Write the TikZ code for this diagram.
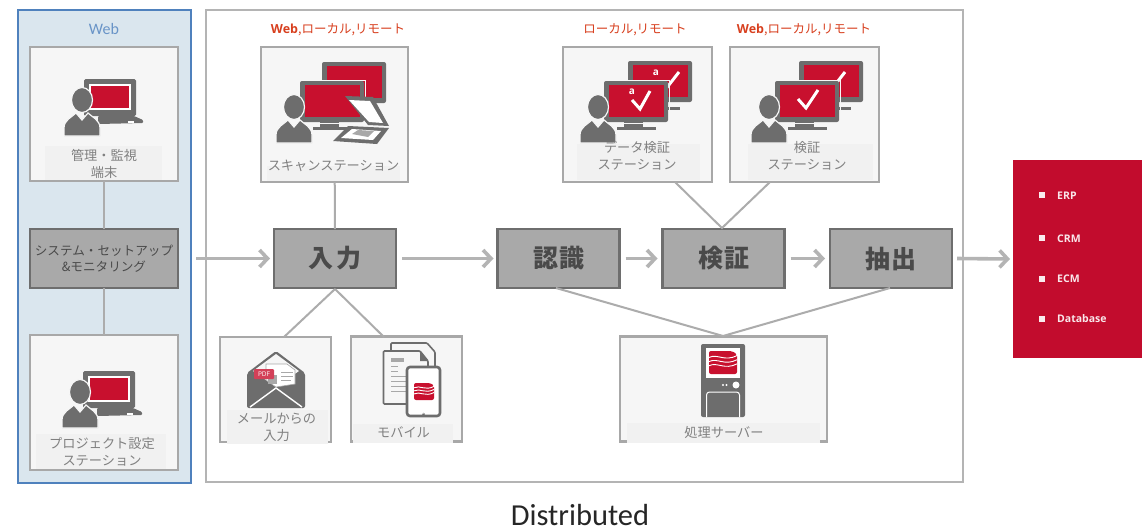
\documentclass[tikz,border=0pt]{standalone}
\usepackage{fontspec}
\setmainfont{Noto Sans CJK JP}
\newfontfamily\latinb{Open Sans}
\newfontfamily\calibri{Carlito}
\usetikzlibrary{arrows.meta}
\definecolor{panelblue}{HTML}{DAE6EE}
\definecolor{panelline}{HTML}{4F81BD}
\definecolor{frame}{HTML}{B4B4B4}
\definecolor{boxline}{HTML}{A8A8A8}
\definecolor{boxfill}{HTML}{F6F6F6}
\definecolor{band}{HTML}{F1F1F1}
\definecolor{stepfill}{HTML}{A9A9A9}
\definecolor{stepline}{HTML}{6E6E6E}
\definecolor{icong}{HTML}{6D6D6D}
\definecolor{iconred}{HTML}{C8102E}
\definecolor{listred}{HTML}{C20C2D}
\definecolor{orangered}{HTML}{D8401F}
\definecolor{labelgray}{HTML}{808080}
\definecolor{darktext}{HTML}{4A4A4A}
\definecolor{conn}{HTML}{ACACAC}
\definecolor{arrowg}{HTML}{B4B4B4}
\tikzset{
  iconbox/.style={draw=boxline,fill=boxfill,line width=2.2pt,inner sep=0pt,outer sep=0pt},
  stepbox/.style={draw=stepline,fill=stepfill,line width=2.2pt,inner sep=0pt,outer sep=0pt,minimum height=59pt,text=darktext},
  bigstep/.style={stepbox,minimum width=122pt,font=\fontsize{25}{28}\selectfont\bfseries},
  connector/.style={draw=conn,line width=2pt},
  flow/.style={draw=arrowg,line width=3.6pt,-{Straight Barb[length=8pt,width=17pt,line width=3.6pt]}},
  lbl/.style={text=labelgray,align=center,inner sep=0pt,font=\fontsize{13.2}{17}\selectfont},
  place/.style={text=orangered,inner sep=0pt,font=\fontsize{12.5}{15}\selectfont},
  bandfill/.style={fill=band,draw=none},
  listitem/.style={text=white!90!listred,anchor=west,inner sep=0pt,font=\latinb\bfseries\fontsize{10.5}{12}\selectfont},
  bullet/.style={fill=white!92!listred,draw=none,minimum size=6pt,inner sep=0pt},
}
\newcommand\personicon[3]{%
  \begin{scope}[shift={(#1,#2)}]
    \fill[icong,draw=#3,line width=1.2pt] (-18,36) -- (-18,28) .. controls (-18,20) and (-10,17) .. (-6,13) -- (0,20) -- (6,13) .. controls (10,17) and (18,20) .. (18,28) -- (18,36) -- cycle;
    \fill[icong,draw=#3,line width=1.2pt] (0,0) ellipse [x radius=10.5pt,y radius=12.5pt];
  \end{scope}}
\newcommand\laptopicon[2]{%
  \begin{scope}[shift={(#1,#2)}]
    \fill[icong,rounded corners=1.5pt] (0,0) rectangle (52,37);
    \fill[white] (5,4.5) rectangle (47,31);
    \fill[iconred] (7,7) rectangle (45,29);
    \fill[icong,rounded corners=1pt] (14,37) -- (50,37) -- (59,41) -- (59,44) -- (14,45) -- cycle;
    \fill[white] (44,42) rectangle (50,43.5);
  \end{scope}}
\newcommand\monitoricon[2]{%
  \begin{scope}[shift={(#1,#2)}]
    \fill[icong] (20,40) rectangle (39,46);
    \fill[icong] (13,46) rectangle (52,49);
    \fill[icong,rounded corners=2pt] (0,0) rectangle (64,41);
    \fill[iconred] (4.5,4) rectangle (60,36);
    \draw[boxfill,line width=1pt] (-1,-1) rectangle (65,42);
  \end{scope}}
\newcommand\checkicon[3]{%
  \draw[white,line width=3pt] (#1,#2) -- ++(8,9) -- ++(#3,-18);}
\newcommand\logoicon[4]{%
  \begin{scope}[shift={(#1,#2)},x=#3pt,y=-#4pt]
    \fill[iconred,rounded corners=2pt] (0,0) -- (.82,0) -- (1,.14) -- (1,1) -- (0,1) -- cycle;
    \foreach \q in {.28,.46,.64}
      \draw[white,line width=.9pt] (0,\q) .. controls (.3,\q-.18) and (.55,\q+.2) .. (1,\q-.08);
  \end{scope}}
\begin{document}
\begin{tikzpicture}[x=1pt,y=-1pt]
\useasboundingbox (0,0) rectangle (1145,531);
\fill[white] (0,0) rectangle (1145,531);
% panels
\node[draw=panelline,fill=panelblue,line width=2.4pt,minimum width=173pt,minimum height=473pt,inner sep=0pt,outer sep=0pt] (webpanel) at (104.5,246.5) {};
\node[draw=frame,fill=white,line width=2.2pt,minimum width=757pt,minimum height=472pt,inner sep=0pt,outer sep=0pt] (mainpanel) at (584.5,246) {};
\node[text=panelline!85!white,inner sep=0pt,font=\calibri\fontsize{16}{18}\selectfont] (webtitle) at (104,29) {Web};
% left column
\node[iconbox,minimum width=148pt,minimum height=134pt] (kanri) at (104,114) {};
\node[iconbox,minimum width=148pt,minimum height=135pt] (project) at (104,402.5) {};
\node[stepbox,minimum width=148pt,align=center,font=\fontsize{12.6}{16.5}\selectfont] (sys) at (104,258.5) {システム・セットアップ\\[0pt]\&モニタリング};
\draw[connector] (kanri) -- (sys);
\draw[connector] (sys) -- (project);
\fill[bandfill] (45,146) rectangle (162,180);
\fill[bandfill] (36,434) rectangle (166,469);
\laptopicon{84}{79}
\personicon{82}{100}{boxfill}
\laptopicon{83}{371}
\personicon{80}{392}{boxfill}
\node[lbl] (kanrilabel) at (104,163.5) {管理・監視\\端末};
\node[lbl] (projectlabel) at (102,451.5) {プロジェクト設定\\ステーション};
% steps
\node[bigstep] (nyu) at (335,258.5) {入\kern3pt 力};
\node[bigstep] (nin) at (558.5,258.5) {認\kern1pt 識};
\node[bigstep] (ken) at (723.5,258.5) {検\kern1pt 証};
\node[bigstep] (chu) at (891,258.5) {抽\kern1pt 出};
% upper boxes
\node[iconbox,minimum width=147pt,minimum height=135pt] (scan) at (334.5,114.5) {};
\node[iconbox,minimum width=149pt,minimum height=135pt] (data) at (637.5,114.5) {};
\node[iconbox,minimum width=149pt,minimum height=135pt] (verify) at (804.5,114.5) {};
% lower boxes
\node[iconbox,minimum width=111pt,minimum height=105pt] (mail) at (275.5,389.5) {};
\node[iconbox,minimum width=111pt,minimum height=105pt] (mobile) at (406.5,389) {};
\node[iconbox,minimum width=207pt,minimum height=105pt] (server) at (723.5,389) {};
% connector ends
\coordinate (mailtop) at (284,337);
\coordinate (mobiletop) at (384,337);
\coordinate (databottom) at (675,182);
\coordinate (verifybottom) at (770,182);
\coordinate (ninbottom) at (556,288);
\coordinate (chubottom) at (890,288);
\coordinate (kenjoin) at (722,228);
\coordinate (serverjoin) at (723,336);
\coordinate (nyujoin) at (335,289);
\draw[connector] (scan) -- (nyu);
\draw[connector] (nyujoin) -- (mailtop);
\draw[connector] (nyujoin) -- (mobiletop);
\draw[connector] (databottom) -- (kenjoin) -- (verifybottom);
\draw[connector] (ninbottom) -- (serverjoin) -- (chubottom);
% flows
\node[inner sep=0pt,outer sep=0pt,minimum size=0pt,fill=listred,minimum width=129pt,minimum height=198pt] (list) at (1077.5,259) {};
\draw[flow] ([xshift=18pt]sys.east) -- ([xshift=-4pt]nyu.west);
\draw[flow] ([xshift=6pt]nyu.east) -- ([xshift=-4pt]nin.west);
\draw[flow] ([xshift=6pt]nin.east) -- ([xshift=-5pt]ken.west);
\draw[flow] ([xshift=6pt]ken.east) -- ([xshift=-5pt]chu.west);
\draw[flow] ([xshift=5pt]chu.east) -- ([xshift=-3pt]list.west);
% place labels
\node[place] (place1) at (338,30) {{\latinb\bfseries Web},ローカル,リモート};
\node[place] (place2) at (635,30) {ローカル,リモート};
\node[place] (place3) at (804,30) {{\latinb\bfseries Web},ローカル,リモート};
% scan icon
\fill[bandfill] (267,166) rectangle (400,181);
\monitoricon{322}{62}
\monitoricon{300}{81}
\personicon{294}{107}{boxfill}
\fill[icong] (345,96) -- (373,97) -- (389,126) -- (368,125) -- cycle;
\fill[white] (349,100) -- (370,101) -- (383,123) -- (369,122) -- cycle;
\fill[icong] (333,141) -- (348,126) -- (389,128) -- (377,144) -- cycle;
\fill[white] (341,138) -- (352,129) -- (381,131) -- (373,140) -- cycle;
\fill[boxline] (352,134) -- (358,130) -- (374,131) -- (368,137) -- cycle;
\node[lbl] (scanlabel) at (333.5,165.5) {スキャンステーション};
% data icon
\fill[bandfill] (577,144) rectangle (700,180);
\monitoricon{628}{61}
\checkicon{657}{81}{14}
\node[text=white,inner sep=0pt,font=\latinb\bfseries\fontsize{10}{10}\selectfont] (a2) at (656,73) {a};
\monitoricon{604}{81}
\checkicon{632}{100}{10}
\node[text=white,inner sep=0pt,font=\latinb\bfseries\fontsize{10}{10}\selectfont] (a1) at (632,92) {a};
\personicon{598}{107}{boxfill}
\node[lbl] (datalabel) at (637,156) {データ検証\\ステーション};
% verify icon
\fill[bandfill] (748,144) rectangle (873,180);
\monitoricon{799}{61}
\checkicon{823}{81}{14}
\monitoricon{775}{81}
\checkicon{798}{99}{12}
\personicon{769}{107}{boxfill}
\node[lbl] (verifylabel) at (807,156) {検証\\ステーション};
% mail icon
\fill[bandfill] (227,410) rectangle (328,444);
\fill[icong,rounded corners=2pt] (247,373) -- (276,351) -- (305,373) -- (305,408) -- (247,408) -- cycle;
\fill[boxfill] (253,371) -- (276,354) -- (299,371) -- (276,387) -- cycle;
\fill[white,draw=boxline,line width=.6pt] (266,364) -- (287,364) -- (295,370) -- (295,384) -- (276,387) -- (266,380) -- cycle;
\draw[boxline,line width=.8pt] (281,372) -- (293,372) (281,376) -- (293,376) (281,380) -- (291,380);
\fill[boxline] (268,375) rectangle (277,384);
\fill[iconred!80!white,rounded corners=1pt] (254,369) rectangle (274,379);
\node[text=white,inner sep=0pt,font=\latinb\fontsize{6.5}{7}\selectfont] (pdf) at (264,374) {PDF};
\draw[white,line width=1.4pt] (250,407) -- (276,388) -- (302,407);
\node[lbl] (maillabel) at (276.5,427) {メールからの\\入力};
% mobile icon
\fill[bandfill] (353,424) rectangle (453,442.5);
\begin{scope}
  \fill[boxfill,draw=icong,line width=1.6pt,rounded corners=1pt] (391,343) -- (427,343) -- (435,352) -- (435,385) -- (391,385) -- cycle;
  \fill[boxfill,draw=icong,line width=1.6pt,rounded corners=1pt] (383.5,351) -- (420,351) -- (428,361) -- (428,404) -- (383.5,404) -- cycle;
  \fill[icong] (420,351) -- (420,361) -- (428,361) -- cycle;
  \fill[boxline] (391,358) rectangle (404,361.5);
  \draw[boxline,line width=1pt] (391,366) -- (398,366) (391,371) -- (398,371) (391,376) -- (410,376) (391,381) -- (410,381) (391,386) -- (410,386) (391,391) -- (410,391);
  \fill[white,draw=icong,line width=2.6pt,rounded corners=3pt] (407,367) rectangle (440,416);
  \fill[icong] (423.5,414) circle (1.5pt);
  \fill[white] (423,413) circle (.8pt);
\end{scope}
\logoicon{414}{383}{20}{17}
\node[lbl] (mobilelabel) at (403.5,432.5) {モバイル};
% server icon
\fill[bandfill] (627,423) rectangle (820,442.5);
\fill[icong,rounded corners=2pt] (701,344) rectangle (745,417);
\fill[white] (706,348) rectangle (740,378);
\logoicon{709}{351}{28}{23}
\fill[white] (723,385) circle (1.2pt) (726.5,385) circle (1.2pt);
\fill[white] (736,385) circle (3.5pt);
\draw[white,line width=1pt,rounded corners=3pt] (706.5,417) -- (706.5,392) -- (739.5,392) -- (739.5,417);
\node[lbl] (serverlabel) at (724,432.5) {処理サーバー};
% list
\node[bullet] (b1) at (1042,195) {};
\node[bullet] (b2) at (1042,238) {};
\node[bullet] (b3) at (1042,279) {};
\node[bullet] (b4) at (1042,319) {};
\node[listitem] (erp) at (1057,196) {ERP};
\node[listitem] (crm) at (1057,239) {CRM};
\node[listitem] (ecm) at (1057,279) {ECM};
\node[listitem] (db) at (1057,319) {Database};
% caption
\node[inner sep=0pt,text=black!85,font=\calibri\fontsize{30.5}{34}\selectfont] (caption) at (580,515) {Distributed};
\end{tikzpicture}
\end{document}
